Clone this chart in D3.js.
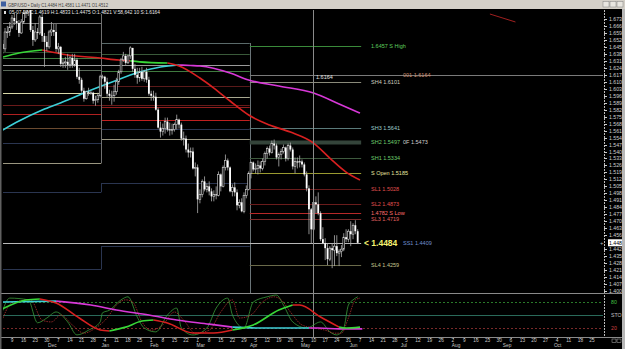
<!DOCTYPE html>
<html>
<head>
<meta charset="utf-8">
<script src="https://cdn.jsdelivr.net/npm/d3@7"></script>
<style>
html, body { margin: 0; padding: 0; background: #000; overflow: hidden; }
svg { display: block; font-family: "Liberation Sans", Arial, sans-serif; }
</style>
</head>
<body>
<svg id="chart" width="625" height="349"></svg>
<script>
// GBP/USD daily bars, one per weekday starting Mon 2 Nov 2009
var opens = [
  1.6500,1.6480,1.6430,1.6600,1.6600, 1.6650,1.6740,1.6710,1.6690,1.6590,
  1.6700,1.6790,1.6800,1.6850,1.6620, 1.6520,1.6600,1.6590,1.6750,1.6560,
  1.6500,1.6450,1.6600,1.6620,1.6600, 1.6430,1.6450,1.6280,1.6290,1.6300,
  1.6270,1.6340,1.6270,1.6320,1.6150, 1.6120,1.6010,1.5930,1.6000,1.5990,
  1.5990,1.5910,1.5920,1.5960,1.6150, 1.6150,1.6100,1.5980,1.5960,1.5960,
  1.6000,1.6100,1.6200,1.6320,1.6360, 1.6290,1.6360,1.6440,1.6230,1.6170,
  1.6140,1.6200,1.6130,1.6200,1.6120, 1.5980,1.5960,1.5950,1.5820,1.5640,
  1.5600,1.5630,1.5700,1.5620,1.5620, 1.5620,1.5670,1.5720,1.5670,1.5530,
  1.5530,1.5420,1.5390,1.5400,1.5230, 1.5240,1.4920,1.4970,1.5100,1.5020,
  1.5050,1.5000,1.4950,1.4970,1.4960, 1.5170,1.5050,1.5240,1.5310,1.5240,
  1.5000,1.5040,1.4990,1.4860,1.4890, 1.4800,1.4960,1.5020,1.5180,1.5290,
  1.5220,1.5230,1.5260,1.5230,1.5300, 1.5380,1.5430,1.5390,1.5480,1.5460,
  1.5340,1.5370,1.5400,1.5440,1.5330, 1.5460,1.5420,1.5250,1.5300,1.5290,
  1.5300,1.5270,1.5170,1.5030,1.4820, 1.4619,1.4890,1.4870,1.4780,1.4520,
  1.4480,1.4430,1.4320,1.4430,1.4410, 1.4450,1.4380,1.4400,1.4420,1.4540,
  1.4520,1.4600,1.4570,1.4660,1.4600
];
var highs = [
  1.6560,1.6520,1.6640,1.6660,1.6700, 1.6770,1.6790,1.6780,1.6720,1.6730,
  1.6830,1.6860,1.6880,1.6870,1.6660, 1.6690,1.6640,1.6770,1.6780,1.6590,
  1.6560,1.6620,1.6700,1.6680,1.6680, 1.6490,1.6460,1.6330,1.6350,1.6380,
  1.6360,1.6380,1.6380,1.6340,1.6240, 1.6140,1.6040,1.6010,1.6040,1.6010,
  1.6000,1.5960,1.5990,1.6170,1.6170, 1.6160,1.6140,1.6020,1.6010,1.6070,
  1.6140,1.6220,1.6340,1.6400,1.6380, 1.6370,1.6457,1.6440,1.6280,1.6240,
  1.6240,1.6250,1.6220,1.6240,1.6150, 1.6010,1.6010,1.5990,1.5840,1.5700,
  1.5680,1.5740,1.5740,1.5690,1.5680, 1.5690,1.5770,1.5730,1.5690,1.5600,
  1.5560,1.5480,1.5440,1.5440,1.5290, 1.5270,1.5020,1.5120,1.5150,1.5080,
  1.5100,1.5030,1.5010,1.5050,1.5200, 1.5180,1.5260,1.5370,1.5330,1.5250,
  1.5070,1.5090,1.5020,1.4920,1.4930, 1.4990,1.5060,1.5200,1.5300,1.5300,
  1.5280,1.5310,1.5300,1.5330,1.5400, 1.5450,1.5460,1.5510,1.5520,1.5480,
  1.5390,1.5430,1.5470,1.5450,1.5480, 1.5490,1.5440,1.5340,1.5340,1.5360,
  1.5320,1.5290,1.5200,1.5060,1.4833, 1.5020,1.4950,1.4990,1.4800,1.4640,
  1.4530,1.4480,1.4450,1.4480,1.4560, 1.4560,1.4420,1.4460,1.4580,1.4620,
  1.4620,1.4700,1.4680,1.4710,1.4620
];
var lows = [
  1.6400,1.6380,1.6400,1.6540,1.6560, 1.6630,1.6670,1.6620,1.6550,1.6580,
  1.6680,1.6740,1.6760,1.6600,1.6460, 1.6500,1.6530,1.6570,1.6500,1.6250,
  1.6410,1.6430,1.6560,1.6560,1.6400, 1.6380,1.6250,1.6240,1.6240,1.6220,
  1.6240,1.6240,1.6250,1.6130,1.6080, 1.5990,1.5900,1.5920,1.5960,1.5970,
  1.5880,1.5860,1.5890,1.5940,1.6130, 1.6030,1.5950,1.5910,1.5870,1.5900,
  1.5970,1.6070,1.6180,1.6300,1.6270, 1.6280,1.6330,1.6200,1.6140,1.6080,
  1.6100,1.6110,1.6100,1.6090,1.5960, 1.5910,1.5910,1.5810,1.5630,1.5540,
  1.5560,1.5580,1.5600,1.5560,1.5570, 1.5600,1.5620,1.5630,1.5510,1.5460,
  1.5390,1.5340,1.5340,1.5220,1.5150, 1.4782,1.4880,1.4940,1.5000,1.4990,
  1.4960,1.4900,1.4900,1.4920,1.4950, 1.5000,1.5040,1.5210,1.5210,1.4990,
  1.4950,1.4950,1.4810,1.4830,1.4790, 1.4780,1.4930,1.5010,1.5130,1.5200,
  1.5180,1.5170,1.5190,1.5210,1.5260, 1.5330,1.5360,1.5380,1.5420,1.5320,
  1.5250,1.5320,1.5380,1.5300,1.5310, 1.5400,1.5220,1.5180,1.5230,1.5240,
  1.5240,1.5150,1.5000,1.4570,1.4475, 1.4600,1.4780,1.4760,1.4500,1.4470,
  1.4310,1.4260,1.4300,1.4229,1.4250, 1.4350,1.4250,1.4340,1.4400,1.4490,
  1.4490,1.4450,1.4520,1.4570,1.4471
];
var closes = [
  1.6480,1.6430,1.6600,1.6600,1.6650, 1.6740,1.6710,1.6690,1.6590,1.6700,
  1.6790,1.6800,1.6850,1.6620,1.6520, 1.6600,1.6590,1.6750,1.6560,1.6500,
  1.6450,1.6600,1.6620,1.6600,1.6430, 1.6450,1.6280,1.6290,1.6300,1.6270,
  1.6340,1.6270,1.6320,1.6150,1.6120, 1.6010,1.5930,1.6000,1.5990,1.5990,
  1.5910,1.5920,1.5960,1.6150,1.6150, 1.6100,1.5980,1.5960,1.5960,1.6000,
  1.6100,1.6200,1.6320,1.6360,1.6290, 1.6360,1.6440,1.6230,1.6170,1.6140,
  1.6200,1.6130,1.6200,1.6120,1.5980, 1.5960,1.5950,1.5820,1.5640,1.5600,
  1.5630,1.5700,1.5620,1.5620,1.5620, 1.5670,1.5720,1.5670,1.5530,1.5530,
  1.5420,1.5390,1.5400,1.5230,1.5240, 1.4920,1.4970,1.5100,1.5020,1.5050,
  1.5000,1.4950,1.4970,1.4960,1.5170, 1.5050,1.5240,1.5310,1.5240,1.5000,
  1.5040,1.4990,1.4860,1.4890,1.4800, 1.4960,1.5020,1.5180,1.5290,1.5220,
  1.5230,1.5260,1.5230,1.5300,1.5380, 1.5430,1.5390,1.5480,1.5460,1.5340,
  1.5370,1.5400,1.5440,1.5330,1.5460, 1.5420,1.5250,1.5300,1.5290,1.5300,
  1.5270,1.5170,1.5030,1.4820,1.4619, 1.4890,1.4870,1.4780,1.4520,1.4480,
  1.4430,1.4320,1.4430,1.4410,1.4450, 1.4380,1.4400,1.4420,1.4540,1.4520,
  1.4600,1.4570,1.4660,1.4600,1.4484
];

// moving averages: [bar index, price, colour key of the segment ending here]
var maLong = [[1,1.5616,"c"],[8,1.5706,"c"],[19,1.5826,"c"],[29,1.5917,"c"],[36,1.5987,"c"],
  [47,1.6087,"c"],[60,1.6198,"c"],[69,1.6248,"c"],[77,1.6268,"c"],[82,1.6263,"m"],[86,1.6258,"m"],
  [99,1.6188,"m"],[107,1.6118,"m"],[120,1.6057,"m"],[135,1.5987,"m"],[146,1.5877,"m"],[155,1.5786,"m"]];
var maShort = [[1,1.6348,"g"],[8,1.6389,"g"],[18,1.6419,"g"],[29,1.6369,"r"],[43,1.6338,"r"],
  [51,1.6318,"r"],[56,1.6310,"r"],[60,1.6300,"g"],[72,1.6288,"g"],[77,1.6258,"r"],[86,1.6138,"r"],
  [92,1.6037,"r"],[99,1.5907,"r"],[107,1.5766,"r"],[116,1.5666,"r"],[125,1.5595,"r"],[135,1.5485,"r"],
  [142,1.5334,"r"],[149,1.5194,"r"],[155,1.5114,"r"]];

// oscillator panel
var oscSlow = [[0,61.5,"g"],[11,84.6,"g"],[17,87,"g"],[24,77.7,"r"],[34,43,"r"],[43,15.4,"r"],[47,13,"r"],
  [54,22,"g"],[61,36,"g"],[66,38.5,"g"],[72,31.5,"r"],[83,8.5,"r"],[92,8.5,"r"],[100,15.4,"r"],[109,27,"g"],
  [120,61.5,"g"],[126,73,"g"],[129,73,"r"],[138,45.4,"r"],[146,22,"r"],[149,20,"g"],[155,22,"g"]];
var oscSignal = [[0,80,"c"],[24,82,"c"],[39,73,"m"],[50,61.5,"m"],[64,50,"m"],[76,38.5,"m"],[90,29,"m"],
  [100,22,"m"],[112,20,"c"],[125,20,"c"],[133,20,"c"],[137,20,"m"],[146,18,"m"],[156,18,"m"]];
var stochK = [[0,43],[4,89],[12,85],[16,32],[20,43],[24,57],[29,34],[33,4],[38,15],[43,34],[44,55],[47,61],
  [52,85],[55,92],[59,45],[62,20],[67,11],[72,50],[76,66],[78,20],[83,4],[89,20],[93,66],[98,89],[100,50],
  [105,20],[109,80],[115,92],[119,96],[122,73],[126,34],[132,20],[138,34],[142,11],[145,4],[148,20],
  [150,73],[152,85],[154,92]];
var stochD = [[0,27],[5,78],[13,85],[18,38],[22,34],[26,50],[31,27],[36,8],[41,20],[46,43],[50,73],[54,85],
  [57,80],[61,34],[65,15],[70,27],[75,57],[79,38],[84,8],[90,15],[95,57],[100,85],[103,43],[108,50],
  [113,80],[118,92],[121,85],[125,57],[130,27],[135,20],[140,15],[144,8],[147,8],[150,43],[153,85],[155,89]];

// quarterly pivot levels: [price, line colour]
var q4Levels = [[1.6690,"#787878"],[1.6399,"#2e4a2e"],[1.6338,"#3f7a3f"],[1.6268,"#9a9a9a"],
  [1.6218,"#5a6a5a"],[1.5987,"#d8d8a8"],[1.5867,"#6a1a1a"],[1.5776,"#b02020"],[1.5636,"#6a4a30"],
  [1.5485,"#2a3550"],[1.5284,"#9a9680"],[1.4993,"#2a3550"],[1.4220,"#2a3550"]];
var q1Levels = [[1.6489,"#5a6a6a"],[1.6379,"#3a5a3a"],[1.6268,"#9a9a9a"],[1.6208,"#3f7a3f"],
  [1.6057,"#5a1a1a"],[1.5947,"#a8a890"],[1.5867,"#6a1a1a"],[1.5846,"#901d1d"],[1.5716,"#c02020"],
  [1.5626,"#2a3550"],[1.5525,"#9a9680"],[1.5084,"#2a3550"],[1.4451,"#2a3550"]];
// current quarter: [price, line colour, label, label colour, line width]
var q2Levels = [
  [1.6457,"#3a8a3a","1.6457 S High","#5fd05f",1],
  [1.6101,"#8a8a7a","SH4 1.6101","#d0d0c0",1],
  [1.5641,"#5a7a7a","SH3 1.5641","#9ecfcf",1],
  [1.5497,"#34443a","SH2 1.5497","#6fcf6f",4],
  [1.5334,"#3e5a3e","SH1 1.5334","#6fcf6f",1],
  [1.5185,"#9a9a30","S Open 1.5185","#e8e8a0",1],
  [1.5028,"#6a1c1c","SL1 1.5028","#e05050",1],
  [1.4873,"#6a1c1c","SL2 1.4873","#e05050",1],
  [1.4782,"#b82828","1.4782 S Low","#ff7070",1],
  [1.4719,"#7a2a2a","SL3 1.4719","#e06060",1],
  [1.4259,"#6a6a4a","SL4 1.4259","#c8c890",1]
];
var sideLabels = [[1.6164,"001 1.6164","#d09070"],[1.5497,"0F 1.5473","#d0d0d0"],[1.4484,"SS1 1.4409","#7090d0"]];
var quarterEdges = [0, 43.5, 107.5, 155.5];
var q1Connectors = [[1.6780,1.5284,"#707070"],[1.5084,1.4993,"#2a3550"],[1.4451,1.4220,"#2a3550"]];
var sLine = 1.6164, sLineEnd = 260;
var trendLine = [[211,1.6780],[222,1.6700]];
var cursorIndex = 134.7;
var lastPrice = 1.4484;

var priceTicks = [1.6730,1.6660,1.6590,1.6520,1.6450,1.6380,1.6310,1.6240,1.6170,1.6100,1.6030,1.5960,
  1.5890,1.5820,1.5750,1.5680,1.5610,1.5540,1.5470,1.5400,1.5330,1.5260,1.5190,1.5120,1.5050,1.4980,
  1.4910,1.4840,1.4770,1.4700,1.4630,1.4560,1.4420,1.4350,1.4280,1.4210,1.4140,1.4070,1.4000];
var oscLevels = [[80,"80","#40c040","#2a7a2a","2,2"],[50,"STO 0","#c0c0c0","#2a6a5a",null],[20,"20","#d04040","#7a2a2a","2,2"]];

var titleText = "GBP/USD \u2022 Daily C1.4484 H1.4581 L1.4471 O1.4512";
var headerText = "05-07-10   C:1.4619   H:1.4833   L:1.4475   O:1.4821   V:58,642   10   S:1.6164";

var colours = { c: "#3cd0d8", m: "#d838d8", g: "#38d838", r: "#d82020" };

var firstDay = new Date(2009, 10, 2);
var svg = d3.select("#chart");
var x = d3.scaleLinear().domain([0, 100]).range([0.4, 232.4]);
var y = d3.scaleLinear().domain([1.4000, 1.6730]).range([291, 19]);
var ys = d3.scaleLinear().domain([20, 80]).range([328, 302]);

function dayIndex(d) {
  return d3.timeMonday.count(firstDay, d) * 5 + (d.getDay() + 6) % 7;
}

svg.append("rect").attr("width", 625).attr("height", 349).attr("fill", "#000");

var defs = svg.append("defs");
defs.append("clipPath").attr("id", "mainClip").append("rect")
  .attr("x", 3).attr("y", 10).attr("width", 600).attr("height", 283);
defs.append("clipPath").attr("id", "oscClip").append("rect")
  .attr("x", 3).attr("y", 293).attr("width", 600).attr("height", 44);

var main = svg.append("g").attr("clip-path", "url(#mainClip)");

// pivot levels, earlier quarters
function drawLevels(list, i0, i1) {
  main.append("g").selectAll("line").data(list).enter().append("line")
    .attr("x1", x(i0)).attr("x2", x(i1))
    .attr("y1", d => Math.round(y(d[0])) + 0.5).attr("y2", d => Math.round(y(d[0])) + 0.5)
    .attr("stroke", d => d[1]).attr("stroke-width", d => d[4] || 1);
}
drawLevels(q4Levels, quarterEdges[0], quarterEdges[1]);
drawLevels(q1Levels, quarterEdges[1], quarterEdges[2]);

main.append("g").selectAll("line").data(q1Connectors).enter().append("line")
  .attr("x1", Math.round(x(quarterEdges[1])) + 0.5).attr("x2", Math.round(x(quarterEdges[1])) + 0.5)
  .attr("y1", d => y(d[0])).attr("y2", d => y(d[1]))
  .attr("stroke", d => d[2]);

main.append("line")
  .attr("x1", Math.round(x(quarterEdges[2])) + 0.5).attr("x2", Math.round(x(quarterEdges[2])) + 0.5)
  .attr("y1", y(1.6489)).attr("y2", 293).attr("stroke", "#6a7478");

main.append("line")
  .attr("x1", x(quarterEdges[2])).attr("x2", x(sLineEnd))
  .attr("y1", Math.round(y(sLine)) + 0.5).attr("y2", Math.round(y(sLine)) + 0.5)
  .attr("stroke", "#7a7a7a");

drawLevels(q2Levels, quarterEdges[2], quarterEdges[3]);

// last price line
main.append("line")
  .attr("x1", 3).attr("x2", x(quarterEdges[3]))
  .attr("y1", Math.round(y(lastPrice)) + 0.5).attr("y2", Math.round(y(lastPrice)) + 0.5)
  .attr("stroke", "#b8b8b8");

// cursor
svg.append("line")
  .attr("x1", Math.round(x(cursorIndex)) + 0.5).attr("x2", Math.round(x(cursorIndex)) + 0.5)
  .attr("y1", 10).attr("y2", 337).attr("stroke", "#8a8a8a");

// coloured moving averages
function colourRuns(pts) {
  var runs = [];
  for (var k = 1; k < pts.length; k++) {
    var last = runs[runs.length - 1];
    if (last && last.key === pts[k][2]) last.pts.push(pts[k]);
    else runs.push({ key: pts[k][2], pts: [pts[k - 1], pts[k]] });
  }
  return runs;
}
var maLine = d3.line().x(d => x(d[0])).y(d => y(d[1])).curve(d3.curveMonotoneX);
[maLong, maShort].forEach(function (ma) {
  main.append("g").selectAll("path").data(colourRuns(ma)).enter().append("path")
    .attr("d", r => maLine(r.pts)).attr("fill", "none")
    .attr("stroke", r => colours[r.key]).attr("stroke-width", 1.6);
});

main.append("line")
  .attr("x1", x(trendLine[0][0])).attr("y1", y(trendLine[0][1]))
  .attr("x2", x(trendLine[1][0])).attr("y2", y(trendLine[1][1]))
  .attr("stroke", "#a02020");

// candles
var bars = closes.map((c, i) => ({ i: i, o: opens[i], h: highs[i], l: lows[i], c: c }));
var cg = main.append("g");
cg.selectAll("line").data(bars).enter().append("line")
  .attr("x1", d => x(d.i)).attr("x2", d => x(d.i))
  .attr("y1", d => y(d.h)).attr("y2", d => y(d.l))
  .attr("stroke", "#b0b0b0").attr("stroke-width", 0.8);
cg.selectAll("rect").data(bars).enter().append("rect")
  .attr("x", d => x(d.i) - 0.9).attr("width", 1.8)
  .attr("y", d => y(Math.max(d.o, d.c)))
  .attr("height", d => Math.max(0.8, Math.abs(y(d.o) - y(d.c))))
  .attr("fill", d => d.c < d.o ? "#ffffff" : "#000")
  .attr("stroke", d => d.c < d.o ? "none" : "#d8d8d8").attr("stroke-width", 0.6);

// labels for the current quarter
var lab = svg.append("g").attr("font-size", 5.5);
lab.selectAll("text.lv").data(q2Levels).enter().append("text")
  .attr("x", 371).attr("y", d => y(d[0]) + 2).attr("fill", d => d[3]).text(d => d[2]);
lab.selectAll("text.sd").data(sideLabels).enter().append("text")
  .attr("x", 403).attr("y", d => y(d[0]) + 2).attr("fill", d => d[2]).text(d => d[1]);
lab.append("text").attr("x", 316).attr("y", y(sLine) + 4).attr("fill", "#e0e0e0").text(sLine.toFixed(4));
svg.append("text").attr("x", 364).attr("y", y(lastPrice) + 3).attr("font-size", 8.5)
  .attr("font-weight", "bold").attr("fill", "#f4f070").text("< " + lastPrice.toFixed(4));

// header inside chart
svg.append("rect").attr("x", 4).attr("y", 11).attr("width", 2).attr("height", 3).attr("fill", "#ddd");
svg.append("text").attr("x", 9).attr("y", 14).attr("font-size", 5.2).attr("fill", "#e8e8e8")
  .attr("textLength", 151).attr("lengthAdjust", "spacingAndGlyphs").text(headerText);

// price axis
var axisX = 604;
svg.append("line").attr("x1", axisX + 0.5).attr("x2", axisX + 0.5).attr("y1", 10).attr("y2", 337)
  .attr("stroke", "#bbbbbb").attr("stroke-dasharray", "2,1");
var pa = svg.append("g");
pa.selectAll("line").data(priceTicks).enter().append("line")
  .attr("x1", axisX).attr("x2", axisX + 3)
  .attr("y1", d => Math.round(y(d)) + 0.5).attr("y2", d => Math.round(y(d)) + 0.5)
  .attr("stroke", "#cccccc");
pa.selectAll("text").data(priceTicks).enter().append("text")
  .attr("x", 609).attr("y", d => y(d) + 2).attr("font-size", 5.2).attr("fill", "#d0d0d0")
  .text(d => d.toFixed(4));
svg.append("rect").attr("x", 608).attr("y", y(lastPrice) - 3.5).attr("width", 14).attr("height", 7)
  .attr("fill", "#ffffff");
svg.append("text").attr("x", 609).attr("y", y(lastPrice) + 2).attr("font-size", 5.2).attr("fill", "#000")
  .text(lastPrice.toFixed(4));
svg.append("text").attr("x", 600).attr("y", y(lastPrice) + 2.5).attr("font-size", 6).attr("fill", "#bbb").text("+");

// oscillator panel
svg.append("line").attr("x1", 0).attr("x2", 622).attr("y1", 293.5).attr("y2", 293.5).attr("stroke", "#8a8a8a");
svg.append("line").attr("x1", 0).attr("x2", 622).attr("y1", 337.5).attr("y2", 337.5).attr("stroke", "#8a8a8a");
var osc = svg.append("g").attr("clip-path", "url(#oscClip)");
osc.selectAll("line").data(oscLevels).enter().append("line")
  .attr("x1", 3).attr("x2", axisX)
  .attr("y1", d => Math.round(ys(d[0])) + 0.5).attr("y2", d => Math.round(ys(d[0])) + 0.5)
  .attr("stroke", d => d[3]).attr("stroke-dasharray", d => d[4]);
svg.append("g").selectAll("text").data(oscLevels).enter().append("text")
  .attr("x", 611).attr("y", d => ys(d[0]) + 2).attr("font-size", 5.2).attr("fill", d => d[2]).text(d => d[1]);

var oscLine = d3.line().x(d => x(d[0])).y(d => ys(d[1])).curve(d3.curveMonotoneX);
osc.append("path").attr("d", oscLine(stochK)).attr("fill", "none").attr("stroke", "#3a9a3a").attr("stroke-width", 0.8);
osc.append("path").attr("d", oscLine(stochD)).attr("fill", "none").attr("stroke", "#b03030")
  .attr("stroke-width", 0.8).attr("stroke-dasharray", "1.5,1");
[oscSignal, oscSlow].forEach(function (s) {
  osc.append("g").selectAll("path").data(colourRuns(s)).enter().append("path")
    .attr("d", r => oscLine(r.pts)).attr("fill", "none")
    .attr("stroke", r => colours[r.key]).attr("stroke-width", 1.6);
});

// time axis
var weeks = d3.timeMonday.range(new Date(2009, 10, 9), new Date(2010, 9, 26));
var ta = svg.append("g").attr("font-size", 4.8).attr("fill", "#c8c8c8");
ta.selectAll("line").data(weeks).enter().append("line")
  .attr("x1", d => Math.round(x(dayIndex(d))) + 0.5).attr("x2", d => Math.round(x(dayIndex(d))) + 0.5)
  .attr("y1", 337).attr("y2", 339).attr("stroke", "#888");
ta.selectAll("text.wk").data(weeks).enter().append("text")
  .attr("x", d => x(dayIndex(d))).attr("y", 342).attr("text-anchor", "middle").text(d => d.getDate());
var months = d3.timeMonth.range(new Date(2009, 11, 1), new Date(2010, 10, 1)).map(function (d) {
  while (d.getDay() === 0 || d.getDay() === 6) d = d3.timeDay.offset(d, 1);
  return d;
});
ta.selectAll("text.mo").data(months).enter().append("text")
  .attr("x", d => x(dayIndex(d)) - 1).attr("y", 347).text(d3.timeFormat("%b"));

// window frame
svg.append("rect").attr("x", 0).attr("y", 0).attr("width", 625).attr("height", 9).attr("fill", "#d4d0c8");
svg.append("rect").attr("x", 1).attr("y", 1.5).attr("width", 5).attr("height", 5).attr("fill", "#4060a0");
svg.append("text").attr("x", 8).attr("y", 6.5).attr("font-size", 5).attr("fill", "#404040")
  .attr("textLength", 100).attr("lengthAdjust", "spacingAndGlyphs").text(titleText);
[603, 610, 617].forEach(function (bx) {
  svg.append("rect").attr("x", bx).attr("y", 1.5).attr("width", 6).attr("height", 5.5)
    .attr("fill", "#e8e6e0").attr("stroke", "#808080").attr("stroke-width", 0.5);
});
svg.append("rect").attr("x", 622).attr("y", 9).attr("width", 3).attr("height", 340).attr("fill", "#b8b8b8");
svg.append("rect").attr("x", 0).attr("y", 9).attr("width", 1.5).attr("height", 340).attr("fill", "#606060");
[612, 617].forEach(function (bx) {
  svg.append("rect").attr("x", bx).attr("y", 339).attr("width", 4).attr("height", 3.5)
    .attr("fill", "none").attr("stroke", "#bbb").attr("stroke-width", 0.5);
});
</script>
</body>
</html>
